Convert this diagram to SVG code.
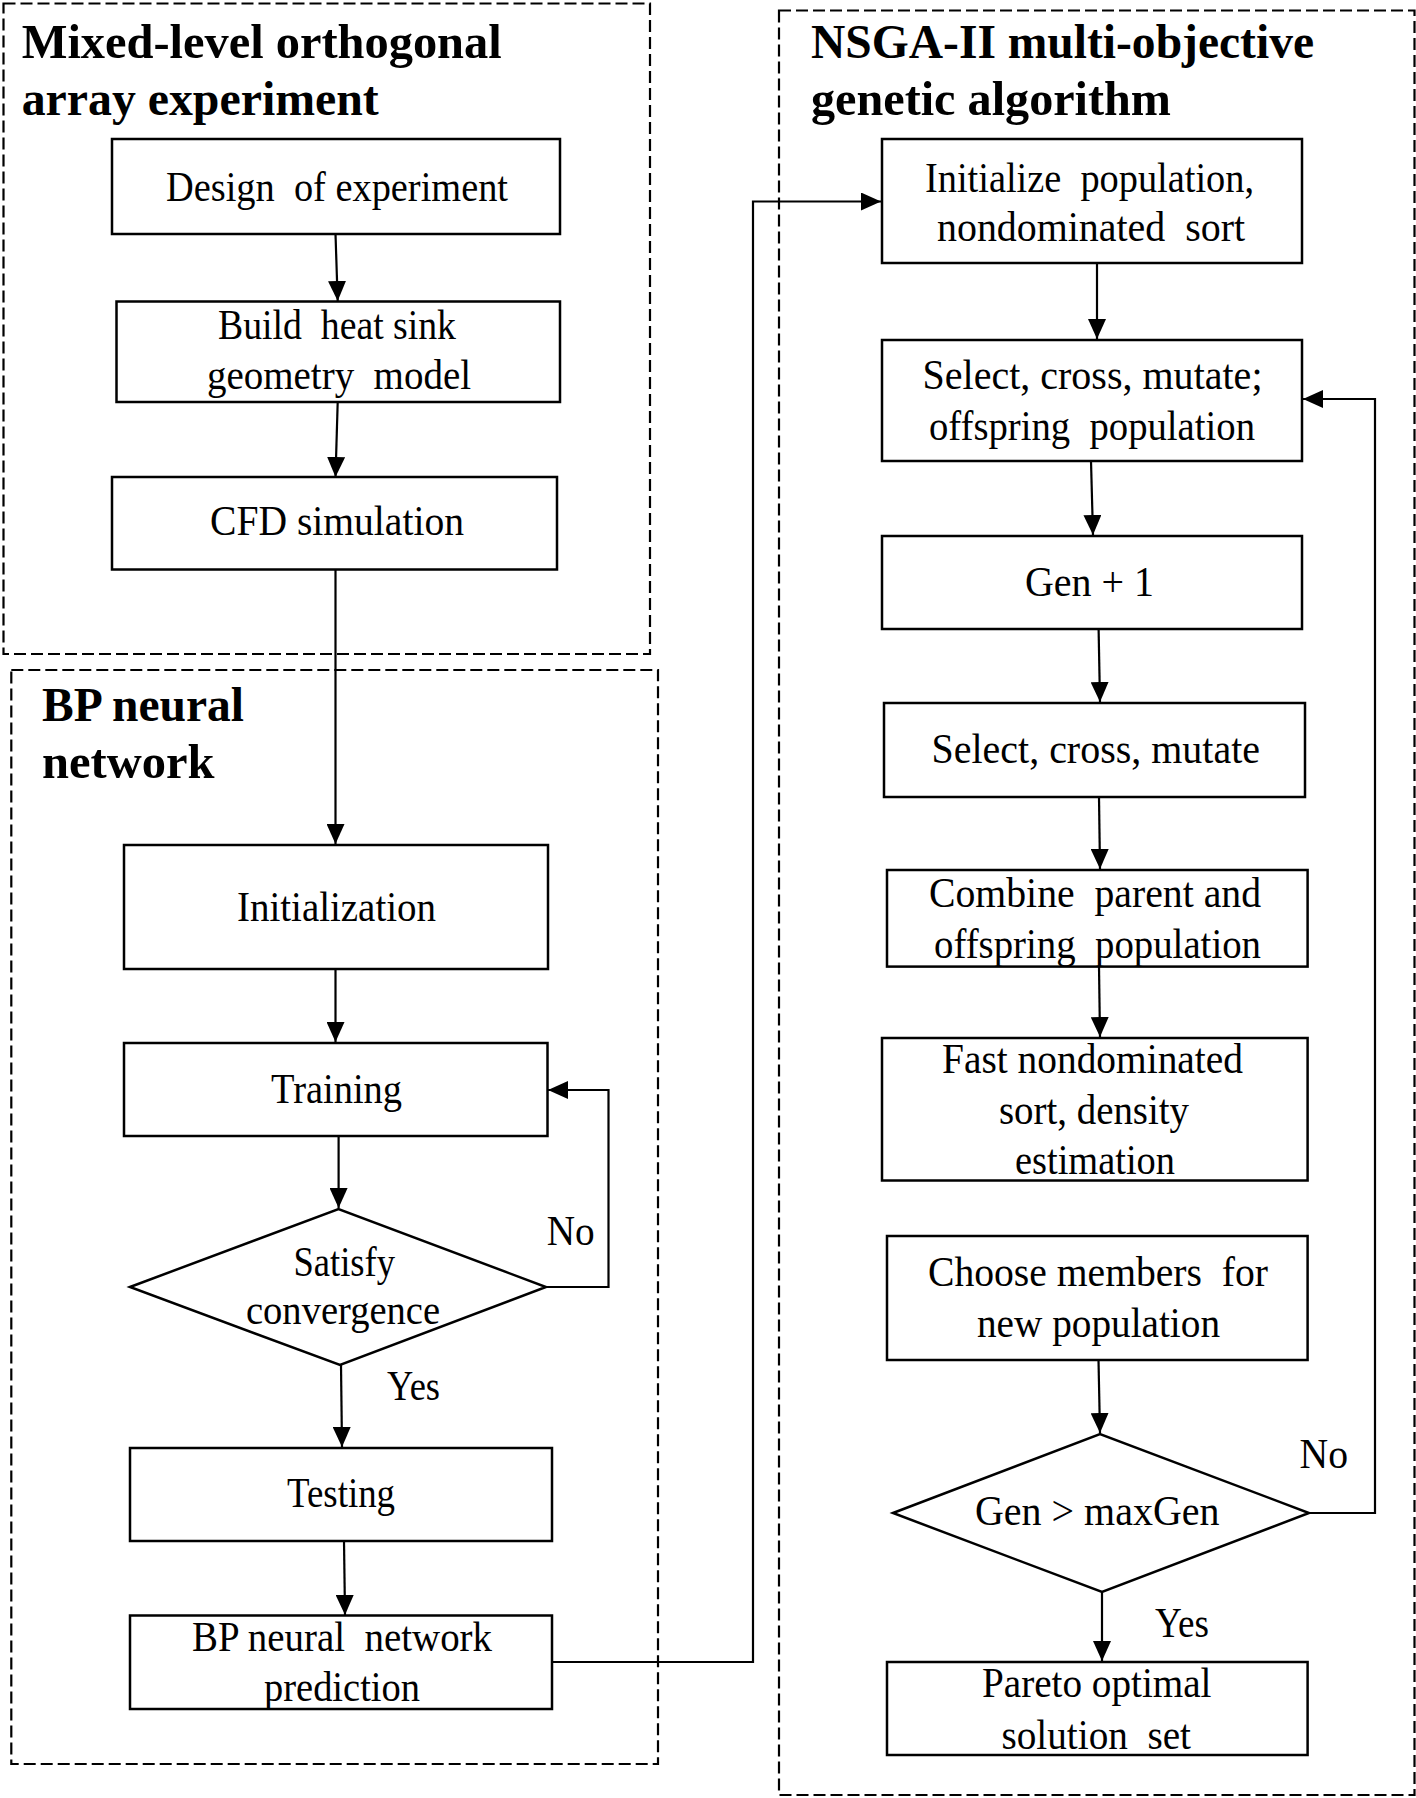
<svg xmlns="http://www.w3.org/2000/svg" width="1416" height="1798" viewBox="0 0 1416 1798" xml:space="preserve">
<defs>
<marker id="arr" markerUnits="userSpaceOnUse" markerWidth="20" markerHeight="18" refX="20" refY="9" orient="auto">
<path d="M0,0 L20,9 L0,18 Z" fill="#000"/>
</marker>
<style>
.grp{fill:none;stroke:#000;stroke-width:2.2;stroke-dasharray:12 5}
.box{fill:#fff;stroke:#000;stroke-width:2.5}
.con{fill:none;stroke:#000;stroke-width:2.2}
.arr{marker-end:url(#arr)}
.t{font-family:"Liberation Serif","Times New Roman",serif;font-size:42px;fill:#000;white-space:pre}
.h{font-family:"Liberation Serif","Times New Roman",serif;font-size:48px;font-weight:bold;fill:#000}
</style>
</defs>
<rect width="1416" height="1798" fill="#fff"/>

<g id="group-doe">
<rect class="grp" x="3.5" y="3.5" width="646.5" height="650.5"/>
<text class="h" x="21.7" y="58" textLength="480" lengthAdjust="spacingAndGlyphs">Mixed-level orthogonal</text>
<text class="h" x="21.7" y="114.5" textLength="357" lengthAdjust="spacingAndGlyphs">array experiment</text>
</g>
<g id="group-bp">
<rect class="grp" x="11.3" y="670" width="646.7" height="1094"/>
<text class="h" x="42" y="721" textLength="202" lengthAdjust="spacingAndGlyphs">BP neural</text>
<text class="h" x="42" y="778" textLength="172.5" lengthAdjust="spacingAndGlyphs">network</text>
</g>
<g id="group-nsga">
<rect class="grp" x="779" y="10.5" width="635.5" height="1784.5"/>
<text class="h" x="811" y="58" textLength="503" lengthAdjust="spacingAndGlyphs">NSGA-II multi-objective</text>
<text class="h" x="811" y="114.5" textLength="360" lengthAdjust="spacingAndGlyphs">genetic algorithm</text>
</g>

<g id="connectors">
<path class="con arr" d="M335.5,234 L337.7,301"/>
<path class="con arr" d="M337.7,402 L335.5,477"/>
<path class="con arr" d="M335.5,569.5 L335.5,844"/>
<path class="con arr" d="M335.5,969 L335.5,1042"/>
<path class="con arr" d="M338.6,1136 L338.6,1208"/>
<path class="con arr" d="M546,1287 L608.5,1287 L608.5,1090 L548,1090"/>
<path class="con arr" d="M341,1365 L342,1447"/>
<path class="con arr" d="M344,1541 L345,1615"/>
<path class="con arr" d="M552,1662 L753,1662 L753,201.5 L881,201.5"/>
<path class="con arr" d="M1097,263 L1097,339"/>
<path class="con arr" d="M1091,461 L1093,535"/>
<path class="con arr" d="M1098.6,629 L1100,702"/>
<path class="con arr" d="M1099,797 L1100,869"/>
<path class="con arr" d="M1099,966.6 L1100,1037"/>
<path class="con arr" d="M1098.5,1360 L1100,1433"/>
<path class="con arr" d="M1309,1513 L1375,1513 L1375,399 L1303,399"/>
<path class="con arr" d="M1102,1592 L1102,1661"/>
<text class="t" x="546.7" y="1245" textLength="48" lengthAdjust="spacingAndGlyphs">No</text>
<text class="t" x="387" y="1400" textLength="53" lengthAdjust="spacingAndGlyphs">Yes</text>
<text class="t" x="1299.5" y="1468" textLength="48.5" lengthAdjust="spacingAndGlyphs">No</text>
<text class="t" x="1155" y="1637" textLength="54" lengthAdjust="spacingAndGlyphs">Yes</text>
</g>

<g id="n1">
<rect class="box" x="112" y="139" width="448" height="95"/>
<text class="t" x="166" y="201" textLength="342" lengthAdjust="spacingAndGlyphs">Design  of experiment</text>
</g>
<g id="n2">
<rect class="box" x="116.5" y="301.5" width="443.5" height="100.5"/>
<text class="t" x="218" y="339" textLength="238" lengthAdjust="spacingAndGlyphs">Build  heat sink</text>
<text class="t" x="207" y="389" textLength="264" lengthAdjust="spacingAndGlyphs">geometry  model</text>
</g>
<g id="n3">
<rect class="box" x="112" y="477" width="445" height="92.5"/>
<text class="t" x="210" y="535" textLength="254" lengthAdjust="spacingAndGlyphs">CFD simulation</text>
</g>
<g id="n4">
<rect class="box" x="124" y="845" width="424" height="124"/>
<text class="t" x="237" y="921" textLength="199" lengthAdjust="spacingAndGlyphs">Initialization</text>
</g>
<g id="n5">
<rect class="box" x="124" y="1043" width="423.5" height="93"/>
<text class="t" x="271" y="1103" textLength="131" lengthAdjust="spacingAndGlyphs">Training</text>
</g>
<g id="n6">
<polygon class="box" points="130,1287 338.5,1209 546,1287 340,1365"/>
<text class="t" x="293.5" y="1276" textLength="101.5" lengthAdjust="spacingAndGlyphs">Satisfy</text>
<text class="t" x="246" y="1324" textLength="194" lengthAdjust="spacingAndGlyphs">convergence</text>
</g>
<g id="n7">
<rect class="box" x="130" y="1448" width="422" height="93"/>
<text class="t" x="287" y="1507" textLength="108" lengthAdjust="spacingAndGlyphs">Testing</text>
</g>
<g id="n8">
<rect class="box" x="130" y="1615.5" width="422" height="93.5"/>
<text class="t" x="192" y="1651" textLength="300" lengthAdjust="spacingAndGlyphs">BP neural  network</text>
<text class="t" x="264" y="1701" textLength="156" lengthAdjust="spacingAndGlyphs">prediction</text>
</g>
<g id="n9">
<rect class="box" x="882" y="139" width="420" height="124"/>
<text class="t" x="925" y="191.5" textLength="329" lengthAdjust="spacingAndGlyphs">Initialize  population,</text>
<text class="t" x="937" y="241" textLength="308" lengthAdjust="spacingAndGlyphs">nondominated  sort</text>
</g>
<g id="n10">
<rect class="box" x="882" y="340" width="420" height="121"/>
<text class="t" x="922.5" y="389" textLength="340" lengthAdjust="spacingAndGlyphs">Select, cross, mutate;</text>
<text class="t" x="929" y="440" textLength="326" lengthAdjust="spacingAndGlyphs">offspring  population</text>
</g>
<g id="n11">
<rect class="box" x="882" y="536" width="420" height="93"/>
<text class="t" x="1025" y="596" textLength="129" lengthAdjust="spacingAndGlyphs">Gen + 1</text>
</g>
<g id="n12">
<rect class="box" x="884" y="703" width="421" height="94"/>
<text class="t" x="931.5" y="763" textLength="328.5" lengthAdjust="spacingAndGlyphs">Select, cross, mutate</text>
</g>
<g id="n13">
<rect class="box" x="887" y="870" width="420.6" height="96.6"/>
<text class="t" x="929" y="907" textLength="332" lengthAdjust="spacingAndGlyphs">Combine  parent and</text>
<text class="t" x="934" y="958" textLength="327" lengthAdjust="spacingAndGlyphs">offspring  population</text>
</g>
<g id="n14">
<rect class="box" x="882" y="1038" width="425.6" height="142.5"/>
<text class="t" x="942" y="1073" textLength="301" lengthAdjust="spacingAndGlyphs">Fast nondominated</text>
<text class="t" x="999" y="1124" textLength="190" lengthAdjust="spacingAndGlyphs">sort, density</text>
<text class="t" x="1015" y="1174" textLength="160" lengthAdjust="spacingAndGlyphs">estimation</text>
</g>
<g id="n15">
<rect class="box" x="887" y="1236" width="420.6" height="124"/>
<text class="t" x="928" y="1286" textLength="340" lengthAdjust="spacingAndGlyphs">Choose members  for</text>
<text class="t" x="977" y="1337" textLength="243" lengthAdjust="spacingAndGlyphs">new population</text>
</g>
<g id="n16">
<polygon class="box" points="893,1513 1100,1434 1309,1513 1102,1592"/>
<text class="t" x="975" y="1525" textLength="244.5" lengthAdjust="spacingAndGlyphs">Gen &gt; maxGen</text>
</g>
<g id="n17">
<rect class="box" x="887" y="1662" width="420.6" height="93"/>
<text class="t" x="982" y="1697" textLength="229.5" lengthAdjust="spacingAndGlyphs">Pareto optimal</text>
<text class="t" x="1001.5" y="1749" textLength="189.5" lengthAdjust="spacingAndGlyphs">solution  set</text>
</g>
</svg>
